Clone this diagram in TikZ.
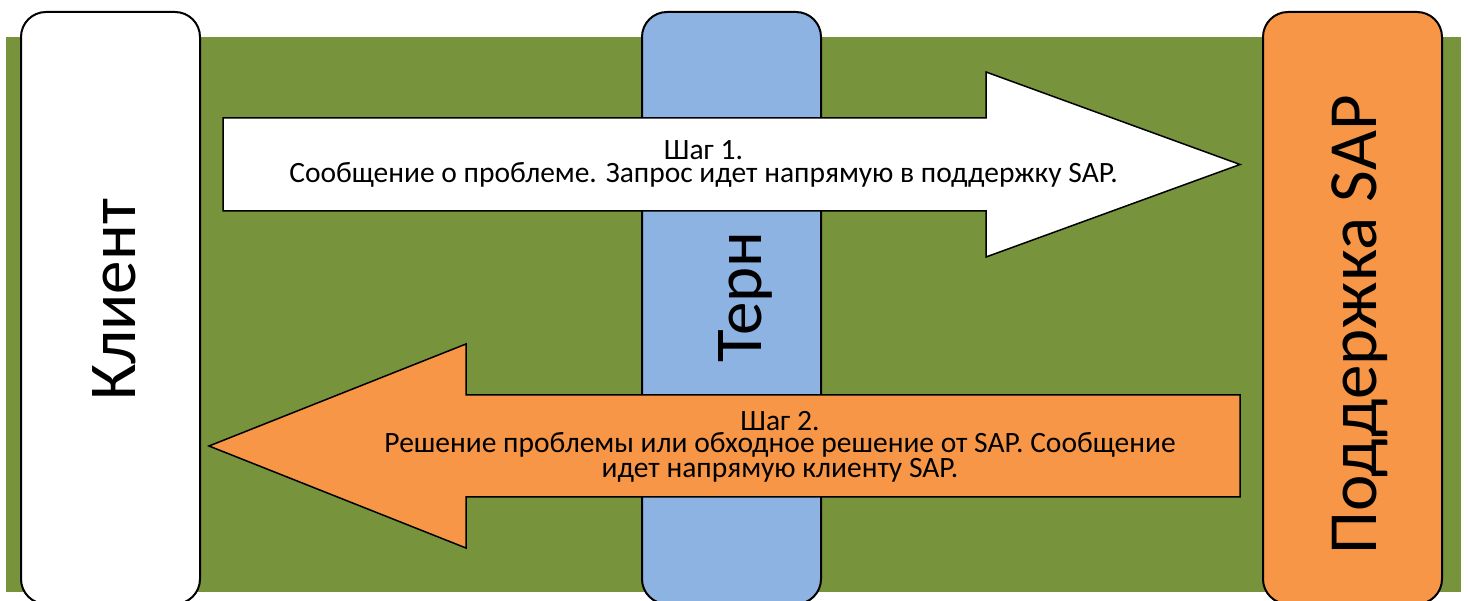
\documentclass[tikz,border=0pt]{standalone}
\usepackage{fontspec}
\setmainfont{Carlito}
\definecolor{bggreen}{HTML}{77933C}
\definecolor{laneblue}{HTML}{8DB3E2}
\definecolor{laneorange}{HTML}{F79646}
\begin{document}
\begin{tikzpicture}[x=1pt,y=-1pt,
  lane/.style={draw=black, line width=2pt, rounded corners=25pt, minimum width=179pt, minimum height=592pt, inner sep=0pt},
  lanetext/.style={rotate=90, anchor=base, font=\fontsize{67}{70}\selectfont, inner sep=0pt},
  bigarrow/.style={draw=black, line width=1.5pt, line join=miter},
  steptext/.style={align=center, font=\fontsize{29.5}{22.5}\selectfont, inner sep=0pt}]
\clip (0,0) rectangle (1468,601);
\fill[white] (0,0) rectangle (1468,601);
\fill[bggreen] (6,37) rectangle (1461,592);
% lanes
\node[lane, fill=white] (client) at (110.5,308) {};
\node[lane, fill=laneblue] (tern) at (731.5,308) {};
\node[lane, fill=laneorange] (sap) at (1352.5,308) {};
\node[lanetext] (clientlbl) at (135,300) {Клиент};
\node[lanetext] (ternlbl) at (761,297) {Терн};
\node[lanetext, font=\fontsize{69}{72}\selectfont] (saplbl) at (1376,325) {Поддержка SAP};
% arrow 1 (client -> SAP)
\draw[bigarrow, fill=white] (223,118) -- (986,118) -- (986,72) -- (1240,164.5) -- (986,257) -- (986,211) -- (223,211) -- cycle;
\node[steptext] (step1) at (703.5,164) {Шаг 1.\\Сообщение о проблеме. Запрос идет напрямую в поддержку SAP.};
% arrow 2 (SAP -> client)
\draw[bigarrow, fill=laneorange] (1240,395) -- (466,395) -- (466,344) -- (209,446) -- (466,548) -- (466,497) -- (1240,497) -- cycle;
\node[steptext] (step2) at (780,447) {Шаг 2.\\Решение проблемы или обходное решение от SAP. Сообщение\\идет напрямую клиенту SAP.};
\end{tikzpicture}
\end{document}
